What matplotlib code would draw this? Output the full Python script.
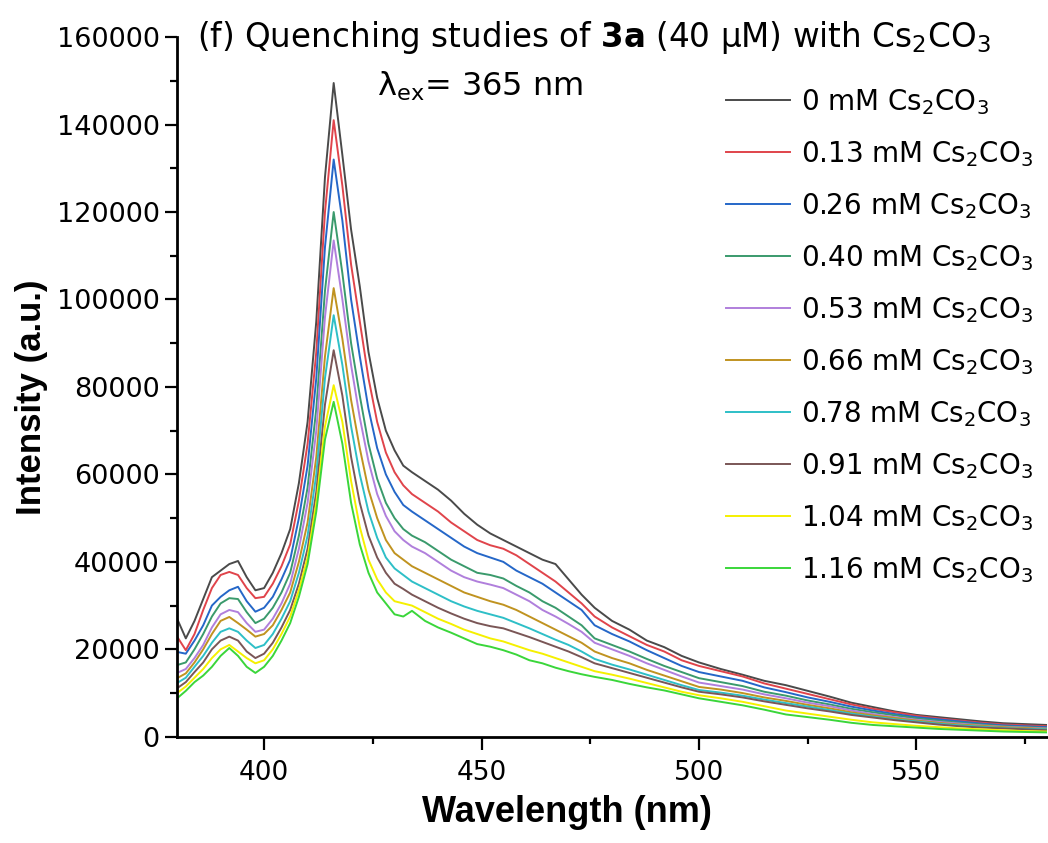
import matplotlib
matplotlib.use('Agg')
import matplotlib.pyplot as plt
from matplotlib.ticker import MultipleLocator

plt.rcParams['font.family'] = ['DejaVu Sans']
plt.rcParams['mathtext.default'] = 'regular'

# wavelength grid (nm)
wavelength = [380, 382, 384, 386, 388, 390, 392, 394, 396, 398,
              400, 402, 404, 406, 408, 410, 412, 414, 416, 418,
              420, 422, 424, 426, 428, 430, 432, 434, 437, 440,
              443, 446, 449, 452, 455, 458, 461, 464, 467, 470,
              473, 476, 480, 484, 488, 492, 496, 500, 505, 510,
              515, 520, 525, 530, 535, 540, 545, 550, 555, 560,
              565, 570, 575, 580]

conc_labels = ['0', '0.13', '0.26', '0.40', '0.53', '0.66', '0.78', '0.91', '1.04', '1.16']
colors = ['#4a4a4a', '#e0444b', '#2567c8', '#3a9a6c', '#b07fdc',
          '#c09320', '#2ebfc7', '#7a5656', '#f5f000', '#3ad63a']

i_0 = [27000, 22500, 26500, 31500, 36500, 38000, 39500, 40200, 36500, 33500,
       34000, 37500, 42000, 47500, 58000, 72000, 95000, 128000, 149500, 133000,
       116000, 103000, 88000, 77500, 70000, 65500, 62000, 60500, 58500, 56500,
       54000, 51000, 48500, 46500, 45000, 43500, 42000, 40500, 39500, 36000,
       32500, 29500, 26500, 24500, 22000, 20500, 18500, 17000, 15500, 14200,
       12800, 11800, 10500, 9200, 7800, 6800, 5800, 5000, 4500, 4000,
       3500, 3100, 2900, 2700]
i_013 = [22900, 19800, 23500, 29000, 34000, 37000, 37700, 37000, 34000, 31700,
         32000, 35000, 39000, 44000, 54000, 67000, 88000, 120000, 141000, 126000,
         108000, 95000, 82000, 72000, 65000, 60500, 57500, 55500, 53500, 51500,
         49000, 47000, 45000, 43800, 43000, 41500, 39500, 37500, 35500, 33000,
         30500, 27500, 25000, 23000, 21000, 19500, 17500, 16200, 15000, 13800,
         12200, 11000, 9800, 8600, 7400, 6400, 5600, 4800, 4200, 3700,
         3200, 2800, 2600, 2400]
i_026 = [19400, 19000, 22000, 25500, 30000, 32000, 33500, 34300, 31000, 28600,
         29500, 32000, 36000, 40500, 50000, 62000, 82000, 112000, 132000, 118000,
         100000, 87000, 75000, 66000, 60000, 56000, 53000, 51500, 49500, 47500,
         45500, 43500, 42000, 41000, 40000, 38000, 36500, 35000, 33000, 31000,
         29000, 25500, 23500, 21800, 19800, 18000, 16200, 14800, 13800, 12800,
         11300, 10200, 9000, 8000, 6900, 6000, 5200, 4500, 4000, 3500,
         3000, 2600, 2400, 2200]
i_040 = [16400, 17000, 20000, 23500, 27500, 30500, 31700, 31500, 28500, 26000,
         27000, 29500, 33000, 37500, 46000, 57000, 75000, 102000, 120000, 106000,
         90000, 78000, 67000, 59000, 53500, 50000, 47500, 46000, 44500, 42500,
         40500, 39000, 37500, 37000, 36200, 34500, 33000, 31000, 29500, 27500,
         25500, 22500, 21000, 19500, 17800, 16200, 14800, 13400, 12500, 11600,
         10300, 9400, 8300, 7400, 6400, 5600, 4900, 4200, 3700, 3200,
         2800, 2400, 2200, 2000]
i_053 = [14600, 15500, 18000, 21000, 25000, 28000, 29000, 28500, 26000, 24000,
         24500, 27000, 30500, 35000, 43000, 53500, 70000, 96000, 113500, 100000,
         85000, 73000, 63000, 55500, 50500, 47000, 45000, 43500, 42000, 40000,
         38000, 36500, 35500, 34800, 34000, 32500, 31000, 29000, 27500, 25800,
         24000, 21500, 20000, 18500, 16800, 15300, 13800, 12400, 11600, 10800,
         9700, 8800, 7800, 7000, 6000, 5200, 4500, 3900, 3400, 3000,
         2600, 2300, 2100, 1900]
i_066 = [13400, 14500, 17000, 20000, 23500, 26500, 27400, 26000, 24500, 22900,
         23500, 25500, 29000, 33000, 40000, 49000, 64000, 87000, 102600, 91000,
         77000, 66000, 56500, 50000, 45000, 42000, 40500, 39000, 37500, 36000,
         34500, 33000, 32000, 31000, 30200, 29000, 27500, 26000, 24500, 23000,
         21500, 19500, 18000, 16800, 15300, 14000, 12700, 11400, 10800, 10000,
         9000, 8200, 7300, 6500, 5600, 4900, 4300, 3700, 3200, 2800,
         2500, 2200, 2000, 1800]
i_078 = [12300, 13500, 16000, 18500, 21500, 24000, 24800, 24000, 22000, 20300,
         21000, 23500, 27000, 31000, 37500, 46000, 60000, 82000, 96400, 85000,
         71000, 60000, 51500, 45500, 41000, 38500, 37000, 35500, 34000, 32500,
         31000, 29800, 28800, 28000, 27200, 26000, 24800, 23500, 22200, 21000,
         19500, 17800, 16500, 15400, 14200, 13000, 11800, 10700, 10100, 9400,
         8500, 7700, 6900, 6100, 5300, 4600, 4000, 3500, 3000, 2600,
         2300, 2000, 1800, 1700]
i_091 = [11100, 12500, 14800, 17000, 20000, 22000, 22900, 22000, 19500, 18000,
         19000, 21500, 25000, 29000, 35000, 43000, 56000, 76000, 88400, 78000,
         64000, 53500, 46000, 41000, 37500, 35000, 33800, 32500, 31000, 29500,
         28200, 27000, 26000, 25300, 24800, 23800, 22800, 21700, 20600, 19500,
         18200, 16800, 15700, 14600, 13500, 12400, 11300, 10300, 9700, 9000,
         8100, 7300, 6500, 5800, 5000, 4400, 3800, 3300, 2800, 2400,
         2100, 1900, 1700, 1500]
i_104 = [10000, 11500, 13500, 15500, 18000, 20000, 21000, 19500, 18000, 16800,
         17500, 20000, 23500, 27500, 33500, 41000, 53500, 71000, 80400, 72000,
         58500, 48000, 40500, 36000, 33000, 31000, 30500, 30000, 28500, 27000,
         25800, 24500, 23500, 22500, 21800, 20800, 19800, 19000, 18000, 17000,
         16000, 15000, 14200, 13300, 12300, 11300, 10300, 9500, 8800, 8000,
         7000, 6000, 5300, 4600, 3900, 3300, 2900, 2500, 2200, 1900,
         1700, 1500, 1300, 1200]
i_116 = [8800, 10500, 12500, 14000, 16000, 18500, 20300, 18500, 16000, 14600,
         16000, 18500, 22000, 26000, 32000, 39500, 51500, 68000, 76600, 67000,
         53500, 44000, 37500, 33000, 30500, 28000, 27500, 28800, 26500, 25000,
         23800, 22500, 21200, 20600, 19800, 18800, 17500, 16800, 15800, 15000,
         14300, 13700, 13000, 12100, 11300, 10600, 9700, 8800, 8000, 7200,
         6200, 5100, 4500, 3900, 3200, 2700, 2400, 2100, 1800, 1600,
         1400, 1200, 1100, 1000]

spectra = [i_0, i_013, i_026, i_040, i_053, i_066, i_078, i_091, i_104, i_116]

fig = plt.figure(figsize=(10.48, 8.43), dpi=100)
ax = fig.add_axes([0.169, 0.126, 0.830, 0.830])

for conc, inten, col in zip(conc_labels, spectra, colors):
    ax.plot(wavelength, inten, color=col, lw=1.4,
            label=f'{conc} mM Cs$_2$CO$_3$')

ax.set_xlim(380, 580)
ax.set_ylim(0, 160000)
ax.xaxis.set_major_locator(MultipleLocator(50))
ax.xaxis.set_minor_locator(MultipleLocator(25))
ax.yaxis.set_major_locator(MultipleLocator(20000))
ax.yaxis.set_minor_locator(MultipleLocator(10000))
ax.spines['top'].set_visible(False)
ax.spines['right'].set_visible(False)
for s in ('left', 'bottom'):
    ax.spines[s].set_linewidth(2)
ax.tick_params(which='major', direction='out', length=9, width=1.6, labelsize=19.5)
ax.tick_params(which='minor', direction='out', length=5, width=1.6)
ax.tick_params(axis='x', labelsize=19, pad=8)

ax.set_xlabel('Wavelength (nm)', fontsize=26, fontweight='bold', family='Liberation Sans')
ax.xaxis.set_label_coords(0.448, -0.083)
ax.set_ylabel('Intensity (a.u.)', fontsize=25, fontweight='bold', family='Liberation Sans')
ax.yaxis.set_label_coords(-0.148, 0.485)

fig.text(0.188, 0.956, r'(f) Quenching studies of $\bf{3a}$ (40 µM) with Cs$_2$CO$_3$',
         fontsize=23.5, va='center', ha='left')
fig.text(0.36, 0.898, r'$\lambda_{ex}$= 365 nm', fontsize=23, va='center', ha='left')

ax.legend(loc='upper right', bbox_to_anchor=(0.996, 0.91), bbox_transform=fig.transFigure,
          frameon=False, fontsize=20, handlelength=2.3, handletextpad=0.4,
          labelspacing=0.8, borderaxespad=0.0)

fig.savefig('out.png', dpi=100)
